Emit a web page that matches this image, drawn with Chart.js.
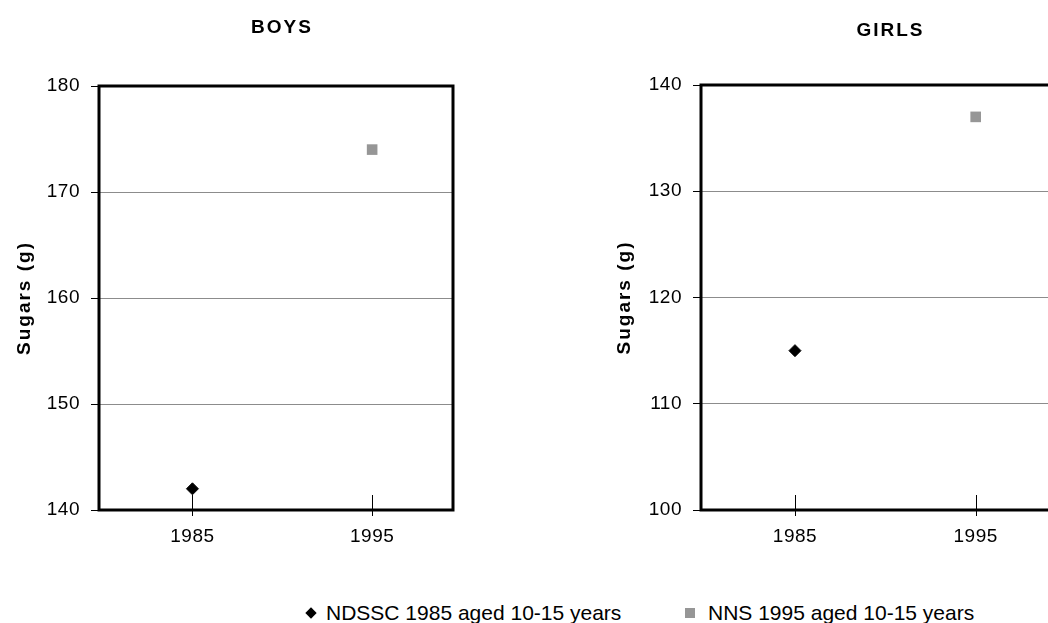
<!DOCTYPE html>
<html>
<head>
<meta charset="utf-8">
<script src="https://cdn.jsdelivr.net/npm/chart.js@4/dist/chart.umd.min.js"></script>
<style>
  html, body { margin: 0; padding: 0; background: #fff; overflow: hidden; }
  #wrap { position: relative; width: 1048px; height: 623px; overflow: hidden; font-family: "Liberation Sans", Arial, sans-serif; }
  canvas { position: absolute; top: 0; }
  #boys { left: 0; }
  #girls { left: 524px; }
  .key { position: absolute; top: 601px; font-size: 21px; line-height: 24px; color: #000; white-space: nowrap; }
  .mark { position: absolute; }
  .diamond { width: 8px; height: 8px; background: #000; transform: rotate(45deg); left: 307px; top: 609px; }
  .square { width: 10px; height: 10px; background: #969696; left: 685px; top: 608px; }
</style>
</head>
<body>
<div id="wrap">
  <canvas id="boys" width="564" height="560"></canvas>
  <canvas id="girls" width="657" height="560"></canvas>
  <div class="mark diamond"></div>
  <span class="key" id="key0" style="left:326px"></span>
  <div class="mark square"></div>
  <span class="key" id="key1" style="left:708px"></span>
</div>
<script>
const years = [1985, 1995];
const seriesNames = ['NDSSC 1985 aged 10-15 years', 'NNS 1995 aged 10-15 years'];
const boysSugars = [142, 174];
const girlsSugars = [115, 137];
const boysTicks = [140, 150, 160, 170, 180];
const girlsTicks = [100, 110, 120, 130, 140];
const yearRange = [1979.8, 1999.5];

const FONT = '"Liberation Sans", Arial, sans-serif';

document.getElementById('key0').textContent = seriesNames[0];
document.getElementById('key1').textContent = seriesNames[1];

// bold titles are drawn wide-spaced, tick labels only slightly
const spacing = {
  id: 'spacing',
  beforeDraw(chart) { chart.ctx.letterSpacing = '2px'; },
  beforeDatasetsDraw(chart) { chart.ctx.letterSpacing = '0.5px'; }
};

// heavy frame round the plot and x tick marks that cross the axis line
const frame = {
  id: 'frame',
  beforeDatasetsDraw(chart) {
    const {ctx, chartArea, scales} = chart;
    ctx.save();
    ctx.strokeStyle = '#000';
    ctx.lineWidth = 1;
    scales.x.ticks.forEach(t => {
      const px = Math.round(scales.x.getPixelForValue(t.value)) + 0.5;
      ctx.beginPath();
      ctx.moveTo(px, chartArea.bottom - 15);
      ctx.lineTo(px, chartArea.bottom + 6);
      ctx.stroke();
    });
    ctx.restore();
  },
  afterDraw(chart) {
    const {ctx, chartArea: a} = chart;
    ctx.save();
    ctx.strokeStyle = '#000';
    ctx.lineWidth = 3;
    ctx.strokeRect(a.left, a.top, a.right - a.left, a.bottom - a.top);
    ctx.restore();
  }
};

function makeChart(id, opts) {
  const ticks = opts.ticks;
  return new Chart(document.getElementById(id), {
    type: 'scatter',
    data: {
      datasets: [
        {
          label: seriesNames[0],
          data: [{x: years[0], y: opts.values[0]}],
          pointStyle: 'rectRot',
          pointRadius: 6,
          borderWidth: 1,
          backgroundColor: '#000',
          borderColor: '#000'
        },
        {
          label: seriesNames[1],
          data: [{x: years[1], y: opts.values[1]}],
          pointStyle: 'rect',
          pointRadius: 7.5,
          borderWidth: 0,
          backgroundColor: '#969696',
          borderColor: '#969696'
        }
      ]
    },
    options: {
      responsive: false,
      animation: false,
      devicePixelRatio: 1,
      layout: { padding: { left: opts.padLeft, right: 0, top: 0, bottom: 0 } },
      plugins: {
        legend: { display: false },
        tooltip: { enabled: false },
        title: {
          display: true,
          text: opts.title,
          color: '#000',
          font: { family: FONT, size: 19, weight: 'bold' },
          padding: { top: opts.titleTop, bottom: opts.titleBottom }
        }
      },
      scales: {
        x: {
          type: 'linear',
          min: yearRange[0],
          max: yearRange[1],
          grid: { display: false, drawTicks: false },
          border: { display: false },
          afterBuildTicks: s => { s.ticks = years.map(v => ({value: v})); },
          afterFit: s => { s.height = 50; },
          ticks: {
            z: 1,
            padding: 15,
            color: '#000',
            font: { family: FONT, size: 19 },
            callback: v => String(v)
          }
        },
        y: {
          min: ticks[0],
          max: ticks[ticks.length - 1],
          afterBuildTicks: s => { s.ticks = ticks.map(v => ({value: v})); },
          afterFit: s => { s.width = opts.axisWidth; },
          grid: { color: '#8c8c8c', tickColor: '#000', tickLength: 8, lineWidth: 1 },
          border: { display: false },
          ticks: {
            z: 1,
            padding: 11,
            color: '#000',
            font: { family: FONT, size: 19 }
          },
          title: {
            display: true,
            text: 'Sugars (g)',
            color: '#000',
            font: { family: FONT, size: 19, weight: 'bold' },
            padding: { top: 13, bottom: 0 }
          }
        },
        // empty right-hand axis, only reserves room so the title sits where it should
        y2: {
          position: 'right',
          grid: { display: false },
          border: { display: false },
          ticks: { display: false },
          afterFit: s => { s.width = opts.rightGap; }
        }
      }
    },
    plugins: [spacing, frame]
  });
}

makeChart('boys', {
  title: 'BOYS', values: boysSugars, ticks: boysTicks,
  padLeft: 0, axisWidth: 99, rightGap: 111, titleTop: 16.1, titleBottom: 47.1
});

makeChart('girls', {
  title: 'GIRLS', values: girlsSugars, ticks: girlsTicks,
  padLeft: 76, axisWidth: 101, rightGap: 124, titleTop: 19.6, titleBottom: 42.6
});
</script>
</body>
</html>
